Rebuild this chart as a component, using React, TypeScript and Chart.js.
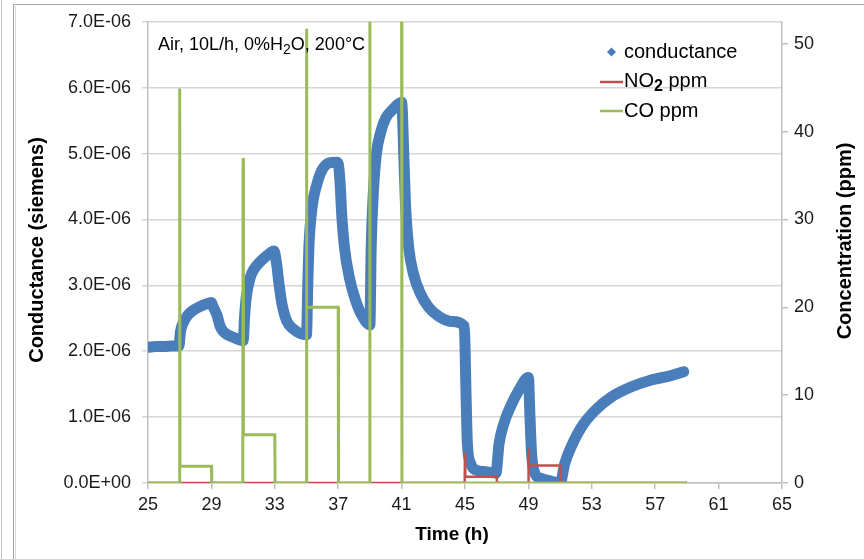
import React, { useEffect, useRef } from 'react';
import { Chart, registerables } from 'chart.js';

Chart.register(...registerables);

// ---- axis tick values ----
const timeTicks = [25, 29, 33, 37, 41, 45, 49, 53, 57, 61, 65];
const conductanceTicks = [0, 1e-6, 2e-6, 3e-6, 4e-6, 5e-6, 6e-6, 7e-6];
const concentrationTicks = [0, 10, 20, 30, 40, 50];

// ---- conductance (siemens) vs time (h) ----
const conductanceTime = [
  25.0, 25.5, 26.0, 26.5, 26.95, 27.05, 27.2, 27.4, 27.6, 27.9, 28.2, 28.6, 29.0,
  29.1, 29.35, 29.55, 29.75, 29.95, 30.3, 30.6, 31.0,
  31.1, 31.2, 31.45, 31.7, 32.0, 32.3, 32.6, 32.95,
  33.1, 33.25, 33.45, 33.75, 34.15, 34.6, 35.0,
  35.08, 35.15, 35.35, 35.65, 36.0, 36.45, 36.9, 37.0,
  37.12, 37.22, 37.4, 37.7, 38.1, 38.5, 39.0,
  39.08, 39.2, 39.4, 39.7, 40.0, 40.45, 41.0,
  41.15, 41.25, 41.45, 41.75, 42.2, 42.7, 43.35, 44.2, 44.95,
  45.08, 45.15, 45.35, 45.65, 46.3, 46.95,
  47.15, 47.45, 47.85, 48.4, 49.0,
  49.1, 49.2, 49.4, 49.8, 50.4, 51.0,
  51.3, 51.7, 52.35, 53.2, 54.2, 55.5, 56.7, 58.0, 58.8,
];
const conductanceValues = [
  2.06e-6, 2.07e-6, 2.07e-6, 2.08e-6, 2.08e-6, 2.3e-6, 2.42e-6, 2.51e-6, 2.57e-6, 2.63e-6, 2.67e-6, 2.71e-6, 2.74e-6,
  2.68e-6, 2.55e-6, 2.38e-6, 2.3e-6, 2.26e-6, 2.22e-6, 2.19e-6, 2.16e-6,
  2.55e-6, 2.82e-6, 3.12e-6, 3.25e-6, 3.34e-6, 3.41e-6, 3.47e-6, 3.52e-6,
  3.35e-6, 3.05e-6, 2.72e-6, 2.46e-6, 2.34e-6, 2.27e-6, 2.25e-6,
  3.0e-6, 3.57e-6, 4.18e-6, 4.53e-6, 4.76e-6, 4.86e-6, 4.87e-6, 4.85e-6,
  4.55e-6, 4.08e-6, 3.57e-6, 3.12e-6, 2.77e-6, 2.54e-6, 2.4e-6,
  3.57e-6, 4.33e-6, 4.98e-6, 5.34e-6, 5.54e-6, 5.67e-6, 5.78e-6,
  4.9e-6, 4.2e-6, 3.57e-6, 3.17e-6, 2.87e-6, 2.67e-6, 2.53e-6, 2.45e-6, 2.38e-6,
  1.2e-6, 0.6e-6, 0.3e-6, 0.2e-6, 0.17e-6, 0.15e-6,
  0.6e-6, 0.9e-6, 1.15e-6, 1.41e-6, 1.6e-6,
  1.0e-6, 0.45e-6, 0.15e-6, 0.07e-6, 0.03e-6, 0.0,
  0.3e-6, 0.55e-6, 0.85e-6, 1.1e-6, 1.3e-6, 1.46e-6, 1.56e-6, 1.63e-6, 1.69e-6,
];

// ---- NO2 (ppm) vs time (h) ----
const no2Time = [25, 44.98, 45, 45.02, 47, 47.02, 48.98, 49, 49.02, 51, 51.02, 59];
const no2Ppm = [0, 0, 3.4, 0.7, 0.7, 0, 0, 3.9, 2.0, 2.0, 0, 0];

// ---- CO (ppm) vs time (h) ----
const coTime = [
  25, 26.98, 27, 27.02, 29, 29.02, 30.98, 31, 31.02, 33, 33.02,
  34.98, 35, 35.02, 37, 37.02, 38.98, 39, 39.02, 41, 41.02, 59,
];
const coPpm = [
  0, 0, 44.9, 1.9, 1.9, 0, 0, 37.0, 5.5, 5.5, 0,
  0, 51.7, 20, 20, 0, 0, 58, 56, 56, 0, 0,
];

const FONT = '"Liberation Sans", Arial, Helvetica, sans-serif';

function fmtSci(v: number): string {
  if (Math.abs(v) < 1e-12) return '0.0E+00';
  const exp = Math.floor(Math.log10(Math.abs(v)) + 1e-9);
  const mant = v / Math.pow(10, exp);
  return `${mant.toFixed(1)}E${exp < 0 ? '-' : '+'}${String(Math.abs(exp)).padStart(2, '0')}`;
}

function pts(xs: number[], ys: number[]) {
  return xs.map((x, i) => ({ x, y: ys[i] }));
}

function drawRich(ctx: CanvasRenderingContext2D, parts: { t: string; sub?: boolean; bold?: boolean }[], x: number, y: number, size: number) {
  let cx = x;
  for (const p of parts) {
    const s = p.sub ? Math.round(size * 0.8) : size;
    ctx.font = `${p.bold ? 'bold ' : ''}${s}px ${FONT}`;
    ctx.fillText(p.t, cx, p.sub ? y + size * 0.3 : y);
    cx += ctx.measureText(p.t).width;
  }
}

const textPlugin = {
  id: 'customTexts',
  afterDraw(chart: any) {
    const ctx: CanvasRenderingContext2D = chart.ctx;
    ctx.save();
    ctx.fillStyle = '#000';
    ctx.textBaseline = 'middle';

    // axis titles
    ctx.font = `bold 20px ${FONT}`;
    ctx.textAlign = 'center';
    ctx.save();
    ctx.translate(37, 250);
    ctx.rotate(-Math.PI / 2);
    ctx.fillText('Conductance (siemens)', 0, 0);
    ctx.restore();

    ctx.save();
    ctx.translate(845, 241);
    ctx.rotate(-Math.PI / 2);
    ctx.fillText('Concentration (ppm)', 0, 0);
    ctx.restore();

    ctx.font = `bold 19px ${FONT}`;
    ctx.fillText('Time (h)', 452, 535);

    // annotation
    ctx.textAlign = 'left';
    drawRich(ctx, [{ t: 'Air, 10L/h, 0%H' }, { t: '2', sub: true }, { t: 'O, 200°C' }], 158, 45, 18);

    // legend
    const lx = 600;
    ctx.fillStyle = '#4A7EBB';
    ctx.beginPath();
    ctx.moveTo(611.5, 52 - 4.5);
    ctx.lineTo(616, 52);
    ctx.lineTo(611.5, 52 + 4.5);
    ctx.lineTo(607, 52);
    ctx.closePath();
    ctx.fill();

    ctx.lineWidth = 2.5;
    ctx.strokeStyle = '#C0504D';
    ctx.beginPath();
    ctx.moveTo(lx, 82);
    ctx.lineTo(lx + 23, 82);
    ctx.stroke();
    ctx.strokeStyle = '#9BBB59';
    ctx.beginPath();
    ctx.moveTo(lx, 111);
    ctx.lineTo(lx + 23, 111);
    ctx.stroke();

    ctx.fillStyle = '#000';
    drawRich(ctx, [{ t: 'conductance' }], 624, 52, 20);
    drawRich(ctx, [{ t: 'NO' }, { t: '2', sub: true, bold: true }, { t: ' ppm' }], 624, 81, 20);
    drawRich(ctx, [{ t: 'CO ppm' }], 624, 111, 20);
    ctx.restore();
  },
};

export default function App() {
  const ref = useRef<HTMLCanvasElement | null>(null);

  useEffect(() => {
    if (!ref.current) return;
    const tickFont = { family: FONT, size: 18 };
    const chart = new Chart(ref.current, {
      type: 'line',
      data: {
        datasets: [
          {
            label: 'conductance',
            data: pts(conductanceTime, conductanceValues),
            yAxisID: 'yL',
            borderColor: '#4A7EBB',
            backgroundColor: '#4A7EBB',
            borderWidth: 11,
            pointRadius: 0,
            borderJoinStyle: 'round',
            borderCapStyle: 'round',
            cubicInterpolationMode: 'monotone',
            order: 3,
          },
          {
            label: 'NO2 ppm',
            data: pts(no2Time, no2Ppm),
            yAxisID: 'yR',
            borderColor: '#C0504D',
            backgroundColor: '#C0504D',
            borderWidth: 2.5,
            pointRadius: 0,
            tension: 0,
            order: 2,
          },
          {
            label: 'CO ppm',
            data: pts(coTime, coPpm),
            yAxisID: 'yR',
            borderColor: '#9BBB59',
            backgroundColor: '#9BBB59',
            borderWidth: 3,
            pointRadius: 0,
            tension: 0,
            order: 1,
          },
        ],
      },
      options: {
        animation: false,
        responsive: false,
        devicePixelRatio: 1,
        layout: { padding: { top: 21, left: 0, right: 0, bottom: 0 } },
        plugins: { legend: { display: false }, tooltip: { enabled: false }, title: { display: false } },
        scales: {
          x: {
            type: 'linear',
            min: 25,
            max: 65,
            afterBuildTicks: (s: any) => { s.ticks = timeTicks.map((v) => ({ value: v })); },
            afterFit: (s: any) => { s.height = 76; },
            grid: { drawOnChartArea: false, drawTicks: true, tickLength: 6, color: '#bfbfbf', lineWidth: 1.5 },
            border: { color: '#bfbfbf', width: 1.5 },
            ticks: { font: tickFont, color: '#1a1a1a', padding: 5, maxRotation: 0, autoSkip: false },
          },
          yL: {
            type: 'linear',
            position: 'left',
            min: 0,
            max: 7e-6,
            afterBuildTicks: (s: any) => { s.ticks = conductanceTicks.map((v) => ({ value: v })); },
            afterFit: (s: any) => { s.width = 148; },
            grid: { color: '#d6d6d6', lineWidth: 1.5, tickLength: 6 },
            border: { color: '#bfbfbf', width: 1.5 },
            ticks: { font: tickFont, color: '#1a1a1a', padding: 11, callback: (v: any) => fmtSci(Number(v)) },
          },
          yR: {
            type: 'linear',
            position: 'right',
            min: 0,
            max: 52.5,
            afterBuildTicks: (s: any) => { s.ticks = concentrationTicks.map((v) => ({ value: v })); },
            afterFit: (s: any) => { s.width = 82; },
            grid: { drawOnChartArea: false, tickLength: 6, color: '#bfbfbf', lineWidth: 1.5 },
            border: { color: '#bfbfbf', width: 1.5 },
            ticks: { font: tickFont, color: '#1a1a1a', padding: 6 },
          },
        },
      },
      plugins: [textPlugin],
    } as any);
    return () => chart.destroy();
  }, []);

  return (
    <div style={{ position: 'fixed', left: 0, top: 0, width: 864, height: 559, background: '#fff', overflow: 'hidden' }}>
      <div style={{ position: 'absolute', left: 1, top: 0, width: 1, height: 559, background: '#c4c4c4' }} />
      <div style={{ position: 'absolute', left: 13, top: 4, width: 900, height: 600, borderLeft: '1px solid #a0a0a0', borderTop: '1.5px solid #a8a8a8' }} />
      <div style={{ position: 'absolute', left: 15, top: 6, width: 1, height: 600, background: '#d8d8d8' }} />
      <canvas ref={ref} width={864} height={559} style={{ position: 'absolute', left: 0, top: 0, width: 864, height: 559 }} />
    </div>
  );
}
